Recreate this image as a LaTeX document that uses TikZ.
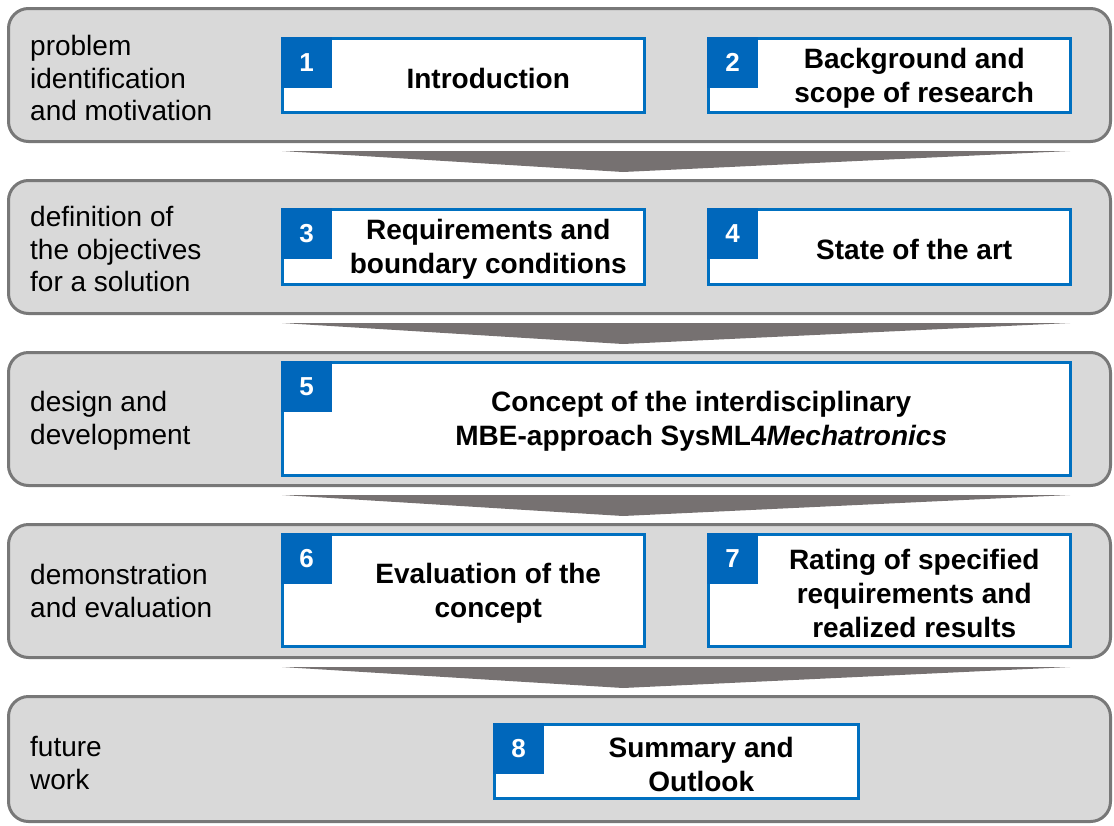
\documentclass[tikz,border=0pt]{standalone}
\usepackage{fontspec}
\setmainfont{Liberation Sans}
\usetikzlibrary{calc}

\definecolor{panelfill}{RGB}{217,217,217}
\definecolor{paneldraw}{RGB}{120,120,120}
\definecolor{arrowfill}{RGB}{118,113,113}
\definecolor{boxblue}{RGB}{0,112,192}
\definecolor{tabblue}{RGB}{0,103,187}

\tikzset{
  panel/.style={draw=paneldraw, fill=panelfill, line width=3pt, rounded corners=20pt,
    anchor=north west, inner sep=0pt, outer sep=0pt, minimum width=1102pt},
  bluebox/.style={draw=boxblue, fill=white, line width=3pt, anchor=north west,
    inner sep=0pt, outer sep=0pt},
  tabbox/.style={fill=tabblue, text=white, anchor=north west, inner sep=0pt, outer sep=0pt,
    minimum width=51pt, minimum height=51pt, font=\fontsize{26}{28}\selectfont\bfseries},
  boxlabel/.style={align=center, inner sep=0pt, yshift=-2.5pt,
    font=\fontsize{28}{34}\selectfont\bfseries},
  phaselabel/.style={align=left, anchor=west, inner sep=0pt, font=\fontsize{28}{32.5}\selectfont},
  blockarrow/.style={fill=arrowfill}
}

\begin{document}
\begin{tikzpicture}[x=1pt, y=-1pt]
\useasboundingbox (0,0) rectangle (1114,825);

% phase panels
\node[panel, minimum height=133pt] (p1) at (8.5,8.5) {};
\node[panel, minimum height=133pt] (p2) at (8.5,180.5) {};
\node[panel, minimum height=133pt] (p3) at (8.5,352.5) {};
\node[panel, minimum height=133pt] (p4) at (8.5,524.5) {};
\node[panel, minimum height=125pt] (p5) at (8.5,696.5) {};

% block arrows between phases
\foreach \a/\b in {p1/p2, p2/p3, p3/p4, p4/p5} {
  \fill[blockarrow] ($(\a.south west)+(273.5,9.5)$) -- ($(\a.south west)+(1061.5,9.5)$)
    -- ($(\b.north west)+(614.5,-8.5)$) -- cycle;
}

% phase names
\node[phaselabel] (n1) at (30,78) {problem\\identification\\and motivation};
\node[phaselabel] (n2) at (30,249) {definition of\\the objectives\\for a solution};
\node[phaselabel] (n3) at (30,421) {design and\\development};
\node[phaselabel] (n4) at (30,591) {demonstration\\and evaluation};
\node[phaselabel] (n5) at (30,763) {future\\work};

% chapter boxes
\node[bluebox, minimum width=362pt, minimum height=74pt] (b1) at (282.5,38.5) {};
\node[bluebox, minimum width=362pt, minimum height=74pt] (b2) at (708.5,38.5) {};
\node[bluebox, minimum width=362pt, minimum height=75pt] (b3) at (282.5,209.5) {};
\node[bluebox, minimum width=362pt, minimum height=75pt] (b4) at (708.5,209.5) {};
\node[bluebox, minimum width=788pt, minimum height=113pt] (b5) at (282.5,362.5) {};
\node[bluebox, minimum width=362pt, minimum height=112pt] (b6) at (282.5,534.5) {};
\node[bluebox, minimum width=362pt, minimum height=112pt] (b7) at (708.5,534.5) {};
\node[bluebox, minimum width=364pt, minimum height=74pt] (b8) at (494.5,724.5) {};

% number tabs
\foreach \i in {1,...,8} {
  \node[tabbox] (t\i) at ($(b\i.north west)+(-1.5,-1.5)$) {\i};
}

% chapter titles, centred right of the tab
\newcommand{\chaptitle}[2]{%
  \node[boxlabel] (l#1) at ($(t#1.east |- b#1.center)!0.5!(b#1.east)$) {#2};}
\chaptitle{1}{Introduction}
\chaptitle{2}{Background and\\scope of research}
\chaptitle{3}{Requirements and\\boundary conditions}
\chaptitle{4}{State of the art}
\chaptitle{5}{Concept of the interdisciplinary\\MBE-approach SysML4\textit{Mechatronics}}
\chaptitle{6}{Evaluation of the\\concept}
\chaptitle{7}{Rating of specified\\requirements and\\realized results}
\chaptitle{8}{Summary and\\Outlook}
\end{tikzpicture}
\end{document}
